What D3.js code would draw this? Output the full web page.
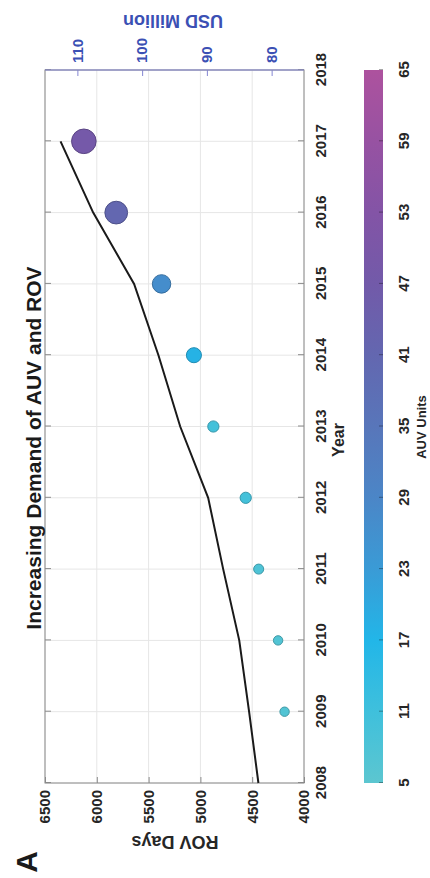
<!DOCTYPE html>
<html>
<head>
<meta charset="utf-8">
<script src="https://cdn.jsdelivr.net/npm/d3@7"></script>
<style>
  body { margin: 0; background: #fff; }
  text { font-family: "Liberation Sans", Arial, sans-serif; font-weight: bold; }
</style>
</head>
<body>
<script>
// data
var lineYears = [2008, 2009, 2010, 2011, 2012, 2013, 2014, 2015, 2016, 2017];
var rovDays = [4440, 4530, 4625, 4780, 4925, 5195, 5405, 5640, 6035, 6350];

var years = [2009, 2010, 2011, 2012, 2013, 2014, 2015, 2016, 2017];
var usdMillion = [78, 79, 82, 84, 89, 92, 97, 104, 109];
var auvUnits = [7, 7, 8, 10, 10, 18, 27, 41, 48];

var yearTicks = [2008, 2009, 2010, 2011, 2012, 2013, 2014, 2015, 2016, 2017, 2018];
var rovTicks = [4000, 4500, 5000, 5500, 6000, 6500];
var usdTicks = [80, 90, 100, 110];
var auvTicks = [5, 11, 17, 23, 29, 35, 41, 47, 53, 59, 65];

// colormap of the colour bar
var cmapValues = [5, 11, 17, 23, 29, 35, 41, 47, 53, 59, 65];
var cmapColors = ['#5cc6d0', '#3fc0dc', '#22b6e8', '#3a9bd6', '#4b86c7', '#5876ba',
                  '#6367b0', '#725aa9', '#8354a6', '#9752a2', '#ad529e'];

var W = 878;   // chart drawn sideways, then turned
var pL = 95, pR = 808, pT = 45, pB = 304;

var svg = d3.select('body').append('svg')
  .attr('width', 430)
  .attr('height', 878);

var g = svg.append('g')
  .attr('transform', 'translate(0,' + W + ') rotate(-90)');

var x = d3.scaleLinear().domain([2008, 2018]).range([pL, pR]);
var yL = d3.scaleLinear().domain([4000, 6500]).range([pB, pT]);
var yR = d3.scaleLinear().domain([75, 115]).range([pB, pT]);
var color = d3.scaleLinear().domain(cmapValues).range(cmapColors);
var rad = d3.scaleSqrt().domain([0, 48]).range([0, 12.3]);

// grid
g.append('g').selectAll('line').data(yearTicks).enter().append('line')
  .attr('x1', function(d){ return x(d); })
  .attr('x2', function(d){ return x(d); })
  .attr('y1', pT).attr('y2', pB)
  .attr('stroke', '#e6e6e6');
g.append('g').selectAll('line').data(rovTicks).enter().append('line')
  .attr('x1', pL).attr('x2', pR)
  .attr('y1', function(d){ return yL(d); })
  .attr('y2', function(d){ return yL(d); })
  .attr('stroke', '#e6e6e6');

// axes
var styleAxis = function(sel, col, txt) {
  sel.select('.domain').remove();
  sel.selectAll('.tick line').attr('stroke', col);
  sel.selectAll('.tick text')
    .attr('fill', txt)
    .style('font-size', '15px');
};

g.append('g').attr('transform', 'translate(0,' + pB + ')')
  .call(d3.axisBottom(x).tickValues(yearTicks).tickFormat(d3.format('d'))
    .tickSizeInner(-6).tickSizeOuter(0).tickPadding(11))
  .call(styleAxis, '#8a8a8a', '#262626');

g.append('g').attr('transform', 'translate(0,' + pT + ')')
  .call(d3.axisTop(x).tickValues(yearTicks).tickFormat('')
    .tickSizeInner(-6).tickSizeOuter(0))
  .call(styleAxis, '#8a8a8a', '#262626');

g.append('g').attr('transform', 'translate(' + pL + ',0)')
  .call(d3.axisLeft(yL).tickValues(rovTicks).tickFormat(d3.format('d'))
    .tickSizeInner(-6).tickSizeOuter(0).tickPadding(7))
  .call(styleAxis, '#8a8a8a', '#262626');

g.append('g').attr('transform', 'translate(' + pR + ',0)')
  .call(d3.axisRight(yR).tickValues(usdTicks)
    .tickSizeInner(-6).tickSizeOuter(0).tickPadding(7))
  .call(styleAxis, '#8486d2', '#3b50b4');

// box
g.append('rect')
  .attr('x', pL).attr('y', pT)
  .attr('width', pR - pL).attr('height', pB - pT)
  .attr('fill', 'none').attr('stroke', '#8a8a8a');
g.append('line')
  .attr('x1', pR).attr('x2', pR).attr('y1', pT).attr('y2', pB)
  .attr('stroke', '#8486d2');

// ROV line
var line = d3.line()
  .x(function(d, i){ return x(lineYears[i]); })
  .y(function(d){ return yL(d); });
g.append('path')
  .datum(rovDays)
  .attr('d', line)
  .attr('fill', 'none')
  .attr('stroke', '#1a1a1a')
  .attr('stroke-width', 2);

// AUV bubbles
g.append('g').selectAll('circle').data(years).enter().append('circle')
  .attr('cx', function(d){ return x(d); })
  .attr('cy', function(d, i){ return yR(usdMillion[i]); })
  .attr('r', function(d, i){ return rad(auvUnits[i]); })
  .attr('fill', function(d, i){ return color(auvUnits[i]); })
  .attr('stroke', function(d, i){ return d3.color(color(auvUnits[i])).darker(0.7); })
  .attr('stroke-width', 1);

// colour bar
var cb = d3.scaleLinear().domain([5, 65]).range([pL, pR]);
var grad = svg.append('defs').append('linearGradient')
  .attr('id', 'cbar')
  .attr('x1', '0%').attr('x2', '100%').attr('y1', '0%').attr('y2', '0%');
grad.selectAll('stop').data(cmapValues).enter().append('stop')
  .attr('offset', function(d){ return ((d - 5) / 60 * 100) + '%'; })
  .attr('stop-color', function(d){ return color(d); });
g.append('rect')
  .attr('x', pL).attr('y', 364)
  .attr('width', pR - pL).attr('height', 19)
  .attr('fill', 'url(#cbar)');
g.append('g').attr('transform', 'translate(0,383)')
  .call(d3.axisBottom(cb).tickValues(auvTicks)
    .tickSizeInner(-4).tickSizeOuter(0).tickPadding(15))
  .call(styleAxis, 'rgba(0,0,0,0.35)', '#262626');

// labels
g.append('text')
  .attr('x', 430).attr('y', 41)
  .attr('text-anchor', 'middle')
  .style('font-size', '21px').attr('fill', '#1a1a1a')
  .text('Increasing Demand of AUV and ROV');

g.append('text')
  .attr('x', 438).attr('y', 344)
  .attr('text-anchor', 'middle')
  .style('font-size', '16px').attr('fill', '#262626')
  .text('Year');

g.append('text')
  .attr('transform', 'translate(42,175) rotate(-90)')
  .attr('text-anchor', 'middle')
  .style('font-size', '18px').attr('fill', '#262626')
  .text('ROV Days');

g.append('text')
  .attr('transform', 'translate(863,173) rotate(-90)')
  .attr('text-anchor', 'middle')
  .style('font-size', '18px').attr('fill', '#3b50b4')
  .text('USD Million');

g.append('text')
  .attr('x', 451).attr('y', 426)
  .attr('text-anchor', 'middle')
  .style('font-size', '13px').attr('fill', '#262626')
  .text('AUV Units');

g.append('text')
  .attr('x', 16).attr('y', 37)
  .attr('text-anchor', 'middle')
  .style('font-size', '30px').attr('fill', '#1a1a1a')
  .text('A');
</script>
</body>
</html>
